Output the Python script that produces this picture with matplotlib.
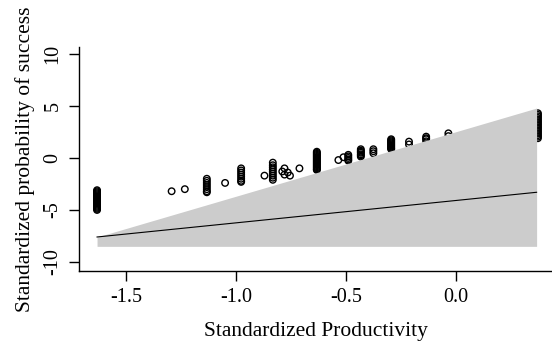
import numpy as np
import matplotlib
matplotlib.use("Agg")
import matplotlib.pyplot as plt

plt.rcParams['font.family'] = ['Liberation Serif', 'DejaVu Serif']

# observed points: (x, list of y) per productivity level
clusters = [
    (-1.632, [-3.1, -3.2, -3.3, -3.4, -3.5, -3.6, -3.7, -3.8, -3.9, -4.0, -4.1, -4.2,
              -4.3, -4.4, -4.5, -4.6, -4.7, -4.8, -4.9, -5.0]),
    (-1.293, [-3.2]),
    (-1.233, [-3.0]),
    (-1.133, [-2.0, -2.2, -2.4, -2.6, -2.8, -3.0, -3.2, -3.3]),
    (-1.050, [-2.4]),
    (-0.977, [-1.0, -1.2, -1.4, -1.6, -1.8, -2.0, -2.2, -2.3]),
    (-0.871, [-1.7]),
    (-0.833, [-0.45, -0.7, -0.9, -1.1, -1.3, -1.5, -1.7, -1.9, -2.1]),
    (-0.790, [-1.3]),
    (-0.780, [-1.0, -1.6]),
    (-0.765, [-1.4]),
    (-0.755, [-1.7]),
    (-0.712, [-1.0]),
    (-0.633, [0.6, 0.5, 0.4, 0.3, 0.2, 0.1, 0.0, -0.1, -0.2, -0.3, -0.4, -0.5,
              -0.6, -0.7, -0.8, -0.9, -1.0, -1.1, -1.15]),
    (-0.535, [-0.2]),
    (-0.512, [0.07]),
    (-0.490, [0.3, 0.15, 0.0, -0.15, -0.26]),
    (-0.433, [0.84, 0.7, 0.6, 0.5, 0.35, 0.25, 0.13]),
    (-0.376, [0.84, 0.65, 0.45]),
    (-0.295, [1.8, 1.7, 1.6, 1.5, 1.4, 1.3, 1.2, 1.1, 1.0, 0.9, 0.85]),
    (-0.214, [1.57, 1.3]),
    (-0.136, [2.05, 1.9, 1.8, 1.6]),
    (-0.035, [2.37, 2.1]),
    (0.372, [4.3, 4.15, 4.0, 3.85, 3.7, 3.55, 3.4, 3.25, 3.1, 2.95, 2.8, 2.65,
             2.5, 2.35, 2.2, 2.05, 1.9]),
]
pts_x = [cx for cx, ys in clusters for _ in ys]
pts_y = [y for cx, ys in clusters for y in ys]

# fitted line and shaded band
band_x = [-1.632, 0.366]
band_lo = [-8.5, -8.5]
band_hi = [-7.6, 4.8]
line_y = [-7.6, -3.3]

fig = plt.figure(figsize=(5.52, 3.47), dpi=100)
ax = fig.add_axes([79/552, 76/347, 473/552, 224/347])

ax.scatter(pts_x, pts_y, s=22, facecolors='none', edgecolors='black', linewidths=1.0, zorder=1)
ax.fill_between(band_x, band_lo, band_hi, color='#cccccc', linewidth=0, zorder=2)
ax.plot(band_x, line_y, color='black', linewidth=0.8, zorder=3)

ax.set_xlim(-1.714, 0.436)
ax.set_ylim(-10.87, 10.67)
ax.set_xticks([-1.5, -1.0, -0.5, 0.0])
ax.set_xticklabels(['-1.5', '-1.0', '-0.5', '0.0'])
ax.set_yticks([-10, -5, 0, 5, 10])
ax.set_yticklabels(['-10', '-5', '0', '5', '10'], rotation=90, va='center')

for s in ['top', 'right']:
    ax.spines[s].set_visible(False)
ax.spines['left'].set_linewidth(1.0)
ax.spines['bottom'].set_linewidth(1.0)
ax.tick_params(length=7, width=1.0, labelsize=14.5, pad=5)

ax.set_xlabel('Standardized Productivity', fontsize=15.5, labelpad=11)
ax.set_ylabel('Standardized probability of success', fontsize=15.5, labelpad=6)

fig.savefig('out.png', dpi=100)
